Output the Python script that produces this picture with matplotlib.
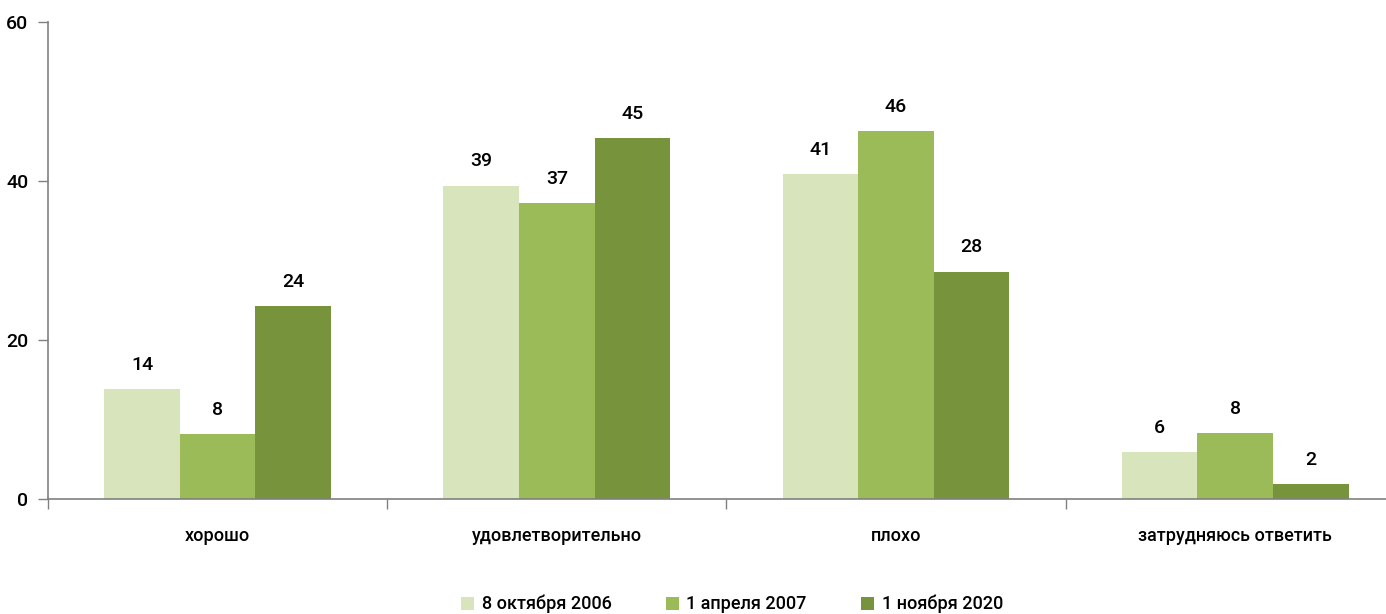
import matplotlib
matplotlib.use("Agg")
import matplotlib.pyplot as plt
from matplotlib.patches import Patch
import numpy as np

plt.rcParams['font.family'] = ['Roboto', 'DejaVu Sans']
plt.rcParams['font.weight'] = 'medium'

categories = ["хорошо", "удовлетворительно", "плохо", "затрудняюсь ответить"]
series_names = ["8 октября 2006", "1 апреля 2007", "1 ноября 2020"]
values_2006 = [13.8, 39.4, 40.9, 5.9]
values_2007 = [8.2, 37.2, 46.3, 8.3]
values_2020 = [24.3, 45.4, 28.6, 1.9]
labels_2006 = ["14", "39", "41", "6"]
labels_2007 = ["8", "37", "46", "8"]
labels_2020 = ["24", "45", "28", "2"]
colors = ["#D8E4BC", "#9BBB59", "#77933C"]

fig = plt.figure(figsize=(13.86, 6.14), dpi=100)
ax = fig.add_axes([0.0346, 0.1873, 0.979, 0.7769])

x = np.arange(len(categories))
w = 0.2227
series = [(values_2006, labels_2006), (values_2007, labels_2007), (values_2020, labels_2020)]
for i, (vals, labs) in enumerate(series):
    bars = ax.bar(x + (i - 1) * w, vals, w, color=colors[i], label=series_names[i], zorder=2)
    for b, lab in zip(bars, labs):
        ax.annotate(lab, (b.get_x() + b.get_width() / 2, b.get_height()),
                    xytext=(0, 11), textcoords="offset points", ha="center", va="bottom",
                    fontsize=14, color="#000000")

ax.set_xlim(-0.5, 3.5)
ax.set_ylim(0, 60)
ax.set_yticks([0, 20, 40, 60])
ax.tick_params(axis='y', direction='out', length=7, width=1, color='#808080',
               labelsize=14, pad=7, labelcolor='#000000')
ax.set_xticks(x)
ax.set_xticklabels(categories, fontsize=13)
ax.set_xticks([-0.5, 0.5, 1.5, 2.5], minor=True)
ax.tick_params(axis='x', which='major', length=0, pad=20, labelcolor='#000000')
ax.tick_params(axis='x', which='minor', direction='out', length=7, width=1, color='#808080')
for s in ['top', 'right']:
    ax.spines[s].set_visible(False)
for s in ['left', 'bottom']:
    ax.spines[s].set_color('#808080')
    ax.spines[s].set_linewidth(1.2)

handles = [Patch(facecolor=c, edgecolor='none') for c in colors]
fig.legend(handles, series_names, loc='center', bbox_to_anchor=(0.528, 0.016),
           ncol=3, frameon=False, fontsize=13, handlelength=0.75, handleheight=0.75,
           handletextpad=0.4, columnspacing=3.0)

fig.savefig("out.png", dpi=100)
